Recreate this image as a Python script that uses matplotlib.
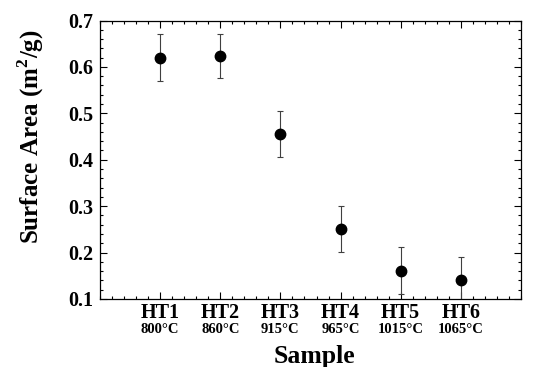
import numpy as np
import matplotlib.pyplot as plt
from matplotlib.ticker import MultipleLocator, AutoMinorLocator
import matplotlib.transforms as mtransforms

plt.rcParams["font.family"] = ["Liberation Serif", "DejaVu Serif"]
plt.rcParams["font.weight"] = "bold"
plt.rcParams["mathtext.fontset"] = "custom"
plt.rcParams["mathtext.rm"] = "Liberation Serif:bold"
plt.rcParams["mathtext.bf"] = "Liberation Serif:bold"

# ---------------------------------------------------------------------------
# Data
# ---------------------------------------------------------------------------
samples = ["HT1", "HT2", "HT3", "HT4", "HT5", "HT6"]
temperatures = ["800°C", "860°C", "915°C", "965°C", "1015°C", "1065°C"]
surface_area = [0.620, 0.624, 0.455, 0.251, 0.161, 0.140]
error = [0.050, 0.047, 0.049, 0.050, 0.050, 0.050]

x = np.arange(1, len(samples) + 1)

W, H = 535, 367
fig = plt.figure(figsize=(W / 100, H / 100), dpi=100)
ax = fig.add_axes([100 / W, 1 - 299 / H, 421 / W, 278.5 / H])

ax.errorbar(x, surface_area, yerr=error, fmt="none", ecolor="0.25",
            elinewidth=0.8, capsize=2, capthick=0.8, zorder=2)
ax.plot(x, surface_area, "o", color="black", markersize=7.5, zorder=3)

ax.set_xlim(0, 7)
ax.set_ylim(0.1, 0.7)
ax.yaxis.set_major_locator(MultipleLocator(0.1))
ax.yaxis.set_minor_locator(AutoMinorLocator(5))
ax.xaxis.set_minor_locator(AutoMinorLocator(5))
ax.set_xticks(x)
ax.set_xticklabels(samples, fontsize=14.5, fontweight="bold")
ax.set_yticks(np.arange(0.1, 0.71, 0.1))
ax.set_yticklabels([f"{v:.1f}" for v in np.arange(0.1, 0.71, 0.1)],
                   fontsize=14.5, fontweight="bold")

ax.tick_params(which="both", direction="in", top=True, right=True, width=0.8)
ax.tick_params(which="major", length=5)
ax.tick_params(which="minor", length=2.5)
ax.tick_params(axis="x", which="major", pad=3)
ax.tick_params(axis="y", which="major", pad=5)
for s in ax.spines.values():
    s.set_linewidth(0.9)

# temperature line under each sample name
trans = mtransforms.blended_transform_factory(ax.transData, ax.transAxes)
for xi, t in zip(x, temperatures):
    ax.annotate(t, xy=(xi, 0), xycoords=trans, xytext=(0, -22),
                textcoords="offset points", ha="center", va="center",
                fontsize=10.5, fontweight="bold")

fig.text(314 / W, 1 - 357 / H, "Sample", fontsize=18.5, fontweight="bold",
         ha="center", va="center")
fig.text(31 / W, 1 - 137 / H, "Surface Area (m$^{2}$/g)", fontsize=18,
         fontweight="bold", rotation=90, ha="center", va="center")

fig.savefig("out.png", dpi=100)
